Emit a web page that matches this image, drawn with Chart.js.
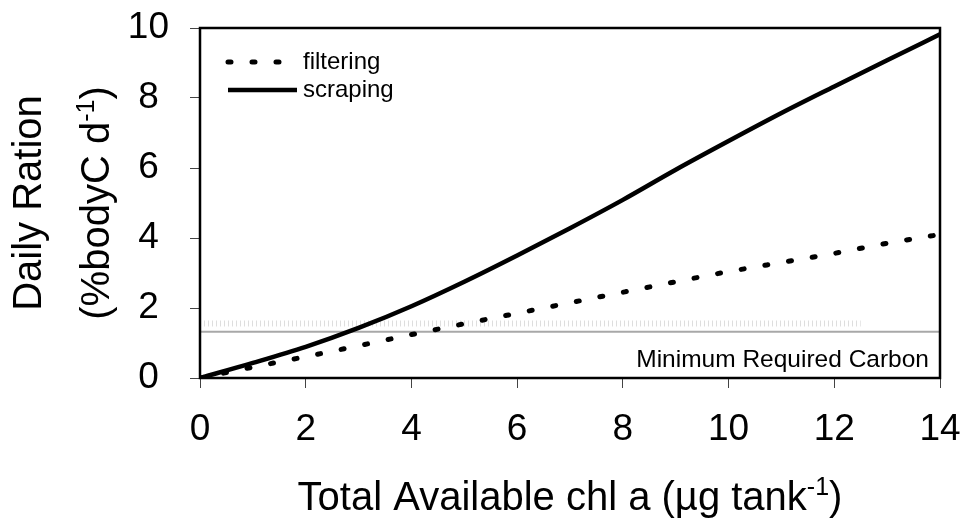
<!DOCTYPE html>
<html>
<head>
<meta charset="utf-8">
<script src="https://cdn.jsdelivr.net/npm/chart.js@4"></script>
<style>
  body { margin: 0; background: #fff; }
  canvas { display: block; }
</style>
</head>
<body>
<canvas id="chart-ration" width="965" height="523"></canvas>
<script>
// chl a disponible (µg por tanque)
const chlA = [0, 1, 2, 3, 4, 5, 6, 7, 8, 9, 10, 11, 12, 13, 14];
// ración diaria (% carbono corporal por día)
const filtering = [0, 0.31, 0.61, 0.92, 1.24, 1.55, 1.85, 2.15, 2.45, 2.75, 3.04, 3.30, 3.56, 3.85, 4.10];
const scraping = [0, 0.43, 0.89, 1.43, 2.05, 2.75, 3.50, 4.28, 5.09, 5.95, 6.77, 7.57, 8.33, 9.08, 9.82];
// carbono mínimo requerido
const minCarbon = 1.32;
const minCarbonHaze = 1.56;
const xTicks = [0, 2, 4, 6, 8, 10, 12, 14];
const yTicks = [0, 2, 4, 6, 8, 10];

const FONT = '"Liberation Sans", Arial, sans-serif';

function toPoints(ys) {
    return chlA.map((x, i) => ({ x: x, y: ys[i] }));
}

// texto con superíndice
function drawRich(ctx, parts, x, y, size, align) {
    const fonts = parts.map(p => p.sup ? `${Math.round(size * 0.62)}px ${FONT}` : `${size}px ${FONT}`);
    let total = 0;
    const widths = parts.map((p, i) => {
        ctx.font = fonts[i];
        const w = ctx.measureText(p.t).width;
        total += w;
        return w;
    });
    let cx = align === 'center' ? x - total / 2 : (align === 'right' ? x - total : x);
    ctx.textAlign = 'left';
    ctx.textBaseline = 'alphabetic';
    parts.forEach((p, i) => {
        ctx.font = fonts[i];
        ctx.fillText(p.t, cx, p.sup ? y - size * 0.38 : y);
        cx += widths[i];
    });
}

const decorations = {
    id: 'decorations',
    afterDatasetsDraw(chart) {
        const ctx = chart.ctx;
        const area = chart.chartArea;
        ctx.save();
        ctx.fillStyle = '#000';

        // marco del gráfico
        ctx.strokeStyle = '#000';
        ctx.lineWidth = 2.5;
        ctx.strokeRect(area.left, area.top, area.right - area.left, area.bottom - area.top);

        // leyenda
        const items = [
            { label: 'filtering', ds: chart.data.datasets[0], y: 62 },
            { label: 'scraping', ds: chart.data.datasets[1], y: 90 }
        ];
        items.forEach(it => {
            ctx.beginPath();
            ctx.strokeStyle = it.ds.borderColor;
            ctx.lineWidth = it.ds.borderWidth;
            ctx.lineCap = it.ds.borderCapStyle || 'butt';
            ctx.setLineDash(it.ds.borderDash || []);
            ctx.moveTo(228, it.y);
            ctx.lineTo(297, it.y);
            ctx.stroke();
            ctx.setLineDash([]);
            ctx.font = `24px ${FONT}`;
            ctx.textAlign = 'left';
            ctx.textBaseline = 'alphabetic';
            ctx.fillText(it.label, 303, it.y + 7);
        });

        ctx.font = `24.5px ${FONT}`;
        ctx.textAlign = 'right';
        ctx.textBaseline = 'alphabetic';
        ctx.fillText('Minimum Required Carbon', area.right - 11, 367);

        // títulos de los ejes
        const cx = (area.left + area.right) / 2;
        drawRich(ctx, [{ t: 'Total Available chl a (µg tank' }, { t: '-1', sup: true }, { t: ')' }], cx, 510, 40, 'center');

        const cy = (area.top + area.bottom) / 2;
        ctx.save();
        ctx.translate(41, cy);
        ctx.rotate(-Math.PI / 2);
        drawRich(ctx, [{ t: 'Daily Ration' }], 0, 0, 40, 'center');
        ctx.restore();
        ctx.save();
        ctx.translate(109, cy);
        ctx.rotate(-Math.PI / 2);
        drawRich(ctx, [{ t: '(%bodyC d' }, { t: '-1', sup: true }, { t: ')' }], 0, 0, 40, 'center');
        ctx.restore();

        ctx.restore();
    }
};

const ctx = document.getElementById('chart-ration').getContext('2d');
new Chart(ctx, {
    type: 'line',
    data: {
        datasets: [
            {
                label: 'filtering',
                data: toPoints(filtering),
                borderColor: '#000',
                borderWidth: 5,
                borderDash: [3, 21],
                borderCapStyle: 'round',
                pointRadius: 0,
                cubicInterpolationMode: 'monotone'
            },
            {
                label: 'scraping',
                data: toPoints(scraping),
                borderColor: '#000',
                borderWidth: 4.5,
                pointRadius: 0,
                cubicInterpolationMode: 'monotone'
            },
            {
                label: 'min',
                data: [{ x: 0, y: minCarbon }, { x: 14, y: minCarbon }],
                borderColor: '#a8a8a8',
                borderWidth: 2,
                pointRadius: 0,
                order: 5
            },
            {
                label: 'minHaze',
                data: [{ x: 0, y: minCarbonHaze }, { x: 12.5, y: minCarbonHaze }],
                borderColor: 'rgba(160,160,160,0.35)',
                borderWidth: 6,
                borderDash: [1, 3],
                pointRadius: 0,
                order: 5
            }
        ]
    },
    options: {
        responsive: false,
        animation: false,
        devicePixelRatio: 1,
        layout: { padding: { top: 28, right: 25, left: 0, bottom: 0 } },
        plugins: {
            legend: { display: false },
            tooltip: { enabled: false }
        },
        scales: {
            x: {
                type: 'linear',
                min: 0,
                max: 14,
                afterBuildTicks: scale => { scale.ticks = xTicks.map(v => ({ value: v })); },
                afterFit: scale => {
                    scale.height = 145;
                    scale.paddingLeft = 0;
                    scale.paddingRight = 0;
                },
                grid: { drawOnChartArea: false, drawTicks: true, tickLength: 10, color: '#444', lineWidth: 1 },
                border: { display: false },
                ticks: { color: '#000', padding: 20, maxRotation: 0, font: { family: FONT, size: 37 } }
            },
            y: {
                min: 0,
                max: 10,
                afterBuildTicks: scale => { scale.ticks = yTicks.map(v => ({ value: v })); },
                afterFit: scale => {
                    scale.width = 200;
                    scale.paddingTop = 0;
                    scale.paddingBottom = 0;
                },
                grid: { drawOnChartArea: false, drawTicks: true, tickLength: 10, color: '#444', lineWidth: 1 },
                border: { display: false },
                ticks: { color: '#000', padding: 21, crossAlign: 'center', font: { family: FONT, size: 37 } }
            }
        }
    },
    plugins: [decorations]
});
</script>
</body>
</html>
